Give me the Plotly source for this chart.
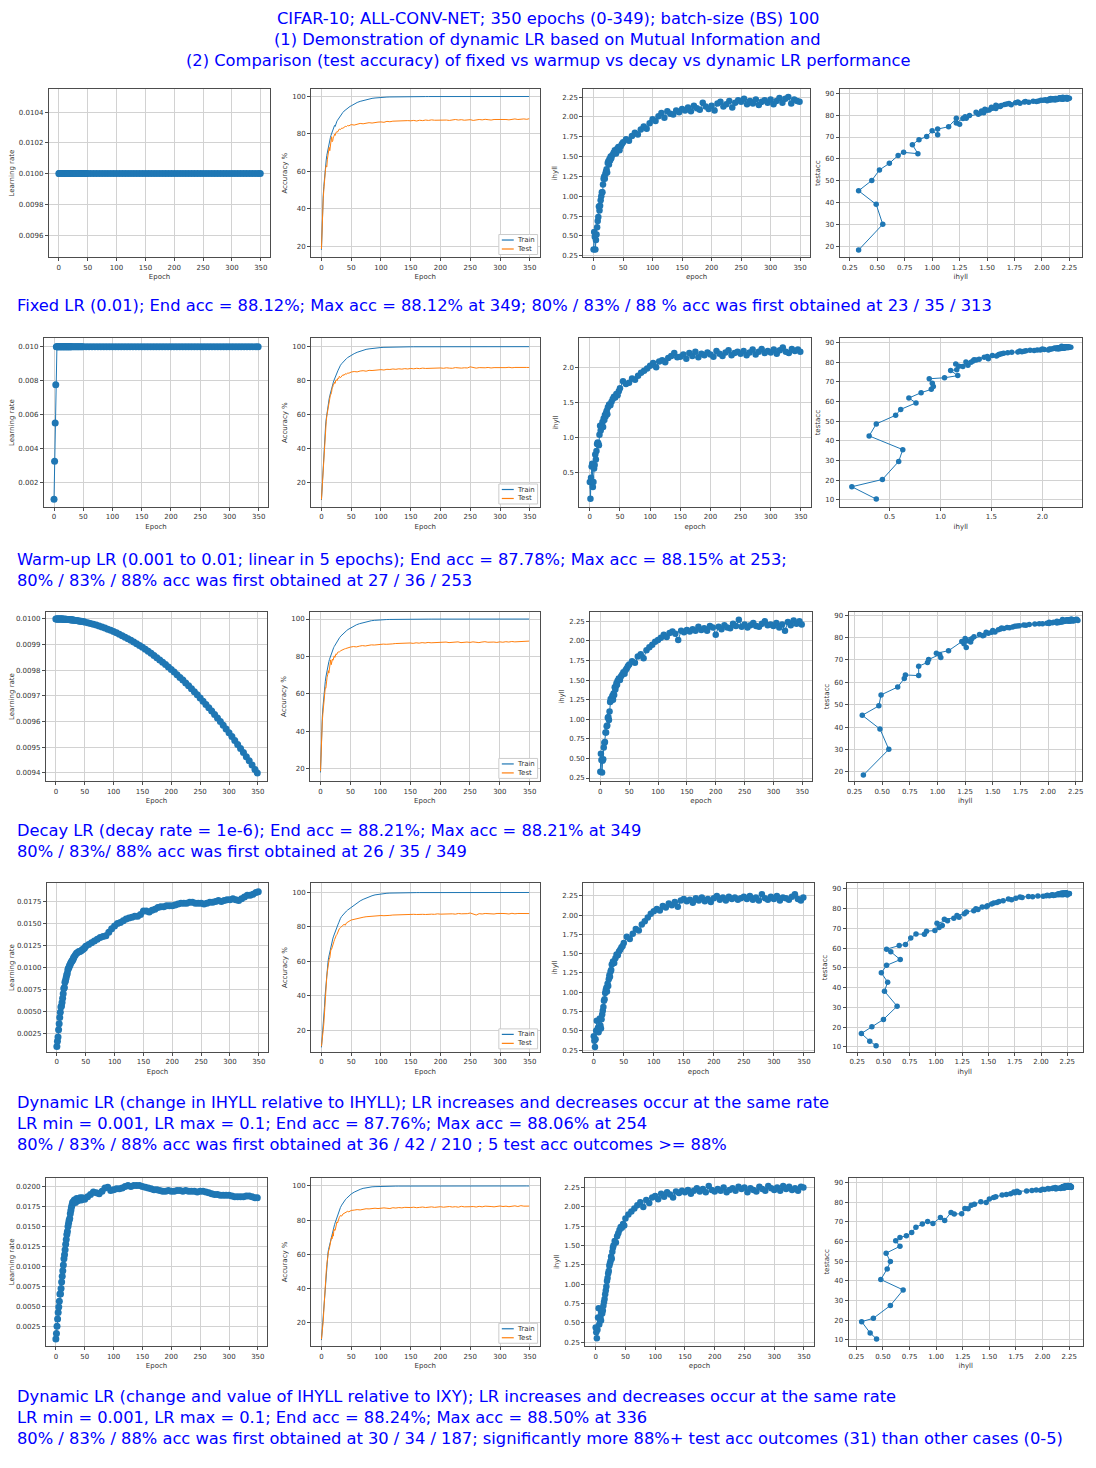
import plotly.graph_objects as go

EPOCHS = list(range(0, 30)) + list(range(30, 50, 2)) + list(range(50, 350, 5)) + [349]

# ---------------- row 1: fixed LR ----------------
LR_FIXED = [0.01] * len(EPOCHS)  # constant schedule

TRAIN_FIXED = [
    18.0, 31.0, 40.5, 47.0, 52.0, 56.5, 60.0, 63.5, 66.0, 68.5,
    70.5, 72.3, 74.0, 75.5, 76.8, 78.0, 79.2, 80.3, 81.3, 82.2,
    83.0, 83.8, 84.5, 84.0, 85.6, 86.2, 86.8, 87.3, 87.8, 88.3,
    89.2, 90.0, 90.8, 91.5, 92.2, 92.8, 93.3, 93.8, 94.3, 94.7,
    95.0, 96.0, 96.8, 97.4, 97.9, 98.3, 98.7, 99.0, 99.2, 99.4,
    99.5, 99.6, 99.7, 99.75, 99.8, 99.84, 99.87, 99.9, 99.9, 99.92,
    99.93, 99.94, 99.94, 99.95, 99.96, 99.96, 99.97, 99.96, 99.97, 99.98,
    99.97, 99.98, 99.98, 99.97, 99.98, 99.99, 99.98, 99.98, 99.99, 99.98,
    99.99, 99.98, 99.99, 99.99, 99.98, 99.99, 99.99, 99.99, 99.98, 99.99,
    99.99, 99.99, 99.99, 100.0, 99.99, 99.99, 100.0, 99.99, 99.99, 100.0,
    99.99,
]
TEST_FIXED = [
    18.5, 30.2, 39.3, 45.5, 50.2, 55.0, 58.0, 61.6, 63.0, 62.4,
    66.5, 68.8, 70.2, 72.8, 71.0, 73.6, 74.7, 78.5, 75.8, 76.4,
    78.4, 78.6, 79.8, 79.2, 80.4, 80.9, 81.3, 81.0, 81.9, 82.2,
    82.6, 82.3, 83.1, 83.0, 83.6, 84.0, 83.9, 84.5, 84.3, 84.8,
    85.0, 84.7, 85.3, 85.6, 85.4, 85.9, 86.0, 85.8, 86.2, 86.3,
    86.4, 86.2, 86.7, 86.5, 86.8, 86.9, 86.6, 87.0, 86.9, 87.1,
    87.0, 87.2, 86.9, 87.3, 87.1, 87.4, 87.2, 87.5, 87.3, 87.4,
    87.3, 87.6, 87.4, 87.2, 87.5, 87.7, 87.4, 87.6, 87.3, 87.5,
    87.6, 87.2, 87.4, 87.7, 87.5, 87.8, 87.6, 87.4, 87.7, 87.8,
    87.6, 87.9, 87.7, 87.5, 87.8, 88.0, 87.7, 87.9, 88.0, 87.8,
    88.12,
]
IHYLL_FIXED = [
    0.33, 0.55, 0.49, 0.33, 0.45, 0.52, 0.61, 0.69, 0.74, 0.87,
    0.82, 0.88, 0.95, 1.00, 1.05, 1.05, 1.15, 1.22, 1.25, 1.22,
    1.28, 1.31, 1.34, 1.30, 1.42, 1.44, 1.40, 1.47, 1.45, 1.50,
    1.48, 1.52, 1.55, 1.58, 1.54, 1.60, 1.62, 1.58, 1.63, 1.66,
    1.68, 1.72, 1.70, 1.76, 1.80, 1.78, 1.84, 1.88, 1.85, 1.92,
    1.97, 1.95, 2.01, 2.05, 1.99, 2.07, 2.04, 2.03, 2.08, 2.06,
    2.10, 2.08, 2.12, 2.07, 2.14, 2.11, 2.09, 2.18, 2.13, 2.10,
    2.14, 2.08, 2.17, 2.19, 2.13, 2.16, 2.20, 2.12, 2.18, 2.21,
    2.19, 2.23, 2.16, 2.20, 2.17, 2.22, 2.15, 2.19, 2.21, 2.18,
    2.22, 2.16, 2.20, 2.24, 2.18, 2.23, 2.25, 2.17, 2.22, 2.20,
    2.19,
]

# ---------------- row 2: warm-up LR ----------------
LR_WARMUP = [0.001, 0.00325, 0.0055, 0.00775] + [0.01] * (len(EPOCHS) - 4)

TRAIN_WARMUP = [
    10.0, 17.5, 23.0, 31.0, 37.5, 44.0, 49.5, 54.0, 57.5, 60.5,
    63.0, 65.5, 67.7, 69.5, 71.2, 72.8, 74.2, 75.5, 76.8, 78.0,
    79.1, 80.2, 81.2, 82.1, 83.0, 83.9, 84.7, 85.5, 86.2, 86.9,
    88.0, 89.1, 90.0, 90.9, 91.7, 92.4, 93.0, 93.6, 94.1, 94.6,
    94.9, 95.9, 96.7, 97.4, 97.9, 98.4, 98.7, 99.0, 99.2, 99.4,
    99.5, 99.6, 99.68, 99.75, 99.8, 99.83, 99.86, 99.89, 99.9, 99.92,
    99.93, 99.94, 99.95, 99.95, 99.96, 99.96, 99.97, 99.97, 99.97, 99.98,
    99.98, 99.97, 99.98, 99.98, 99.99, 99.98, 99.98, 99.99, 99.98, 99.99,
    99.99, 99.98, 99.99, 99.99, 99.99, 99.98, 99.99, 99.99, 99.99, 100.0,
    99.99, 99.99, 100.0, 99.99, 99.99, 100.0, 99.99, 100.0, 99.99, 99.99,
    100.0,
]
TEST_WARMUP = [
    10.3, 16.6, 20.3, 29.5, 35.5, 42.5, 48.6, 53.0, 56.0, 59.3,
    61.8, 64.5, 66.2, 67.6, 69.3, 71.6, 72.1, 73.2, 75.8, 76.2,
    78.0, 77.9, 79.1, 78.5, 80.2, 80.6, 80.0, 81.1, 81.6, 81.3,
    82.6, 81.8, 82.9, 83.5, 83.2, 84.1, 83.8, 84.6, 84.4, 84.9,
    85.1, 85.4, 85.2, 85.7, 85.9, 85.6, 86.1, 86.0, 86.3, 86.2,
    86.5, 86.3, 86.7, 86.6, 86.9, 86.7, 87.0, 86.8, 87.1, 86.9,
    87.2, 87.0, 87.3, 87.1, 87.4, 87.2, 87.3, 87.5, 87.2, 87.4,
    87.5, 87.3, 87.6, 87.4, 87.3, 87.7, 87.5, 87.4, 87.6, 87.5,
    88.15, 87.6, 87.4, 87.7, 87.5, 87.6, 87.8, 87.5, 87.7, 87.6,
    87.8, 87.5, 87.7, 87.9, 87.6, 87.8, 87.7, 87.9, 87.6, 87.8,
    87.78,
]
IHYLL_WARMUP = [
    0.37, 0.13, 0.43, 0.59, 0.63, 0.30, 0.37, 0.56, 0.61, 0.76,
    0.69, 0.81, 0.91, 0.93, 0.92, 0.89, 1.04, 1.17, 1.10, 1.16,
    1.18, 1.22, 1.15, 1.27, 1.25, 1.32, 1.30, 1.35, 1.38, 1.33,
    1.43, 1.47, 1.46, 1.51, 1.55, 1.58, 1.57, 1.62, 1.60, 1.66,
    1.70, 1.80, 1.76, 1.78, 1.84, 1.82, 1.88, 1.92, 1.95, 1.98,
    2.02, 2.06, 2.00, 2.08, 2.10, 2.07, 2.13, 2.16, 2.20, 2.14,
    2.15, 2.18, 2.12, 2.20, 2.16, 2.22, 2.14, 2.19, 2.17, 2.21,
    2.18, 2.15, 2.23, 2.19, 2.16, 2.21, 2.24, 2.17, 2.20, 2.22,
    2.19, 2.23, 2.17, 2.21, 2.25, 2.18, 2.22, 2.26, 2.20, 2.23,
    2.21, 2.25, 2.19, 2.24, 2.28, 2.22, 2.20, 2.26, 2.23, 2.25,
    2.22,
]

# ---------------- row 3: decay LR ----------------
LR_DECAY = [
    0.0100000, 0.0100000, 0.0100000, 0.0099999, 0.0099999, 0.0099999, 0.0099998, 0.0099998, 0.0099997, 0.0099996,
    0.0099995, 0.0099994, 0.0099993, 0.0099992, 0.0099990, 0.0099989, 0.0099987, 0.0099986, 0.0099984, 0.0099982,
    0.0099980, 0.0099978, 0.0099976, 0.0099974, 0.0099972, 0.0099969, 0.0099967, 0.0099964, 0.0099961, 0.0099959,
    0.0099956, 0.0099950, 0.0099943, 0.0099936, 0.0099929, 0.0099921, 0.0099913, 0.0099905, 0.0099896, 0.0099887,
    0.0099877, 0.0099851, 0.0099823, 0.0099792, 0.0099759, 0.0099723, 0.0099685, 0.0099644, 0.0099601, 0.0099555,
    0.0099507, 0.0099457, 0.0099404, 0.0099349, 0.0099291, 0.0099230, 0.0099168, 0.0099102, 0.0099034, 0.0098964,
    0.0098892, 0.0098817, 0.0098739, 0.0098659, 0.0098576, 0.0098491, 0.0098404, 0.0098314, 0.0098222, 0.0098127,
    0.0098030, 0.0097930, 0.0097828, 0.0097723, 0.0097616, 0.0097506, 0.0097394, 0.0097280, 0.0097163, 0.0097043,
    0.0096921, 0.0096797, 0.0096670, 0.0096541, 0.0096409, 0.0096275, 0.0096138, 0.0095999, 0.0095857, 0.0095713,
    0.0095566, 0.0095417, 0.0095266, 0.0095112, 0.0094956, 0.0094797, 0.0094635, 0.0094472, 0.0094305, 0.0094137,
    0.0094000,
]
TRAIN_DECAY = [
    18.0, 31.5, 41.0, 47.5, 52.5, 57.0, 60.5, 64.0, 66.5, 69.0,
    71.0, 72.8, 74.5, 75.9, 77.2, 78.4, 79.5, 80.5, 81.5, 82.4,
    83.2, 84.0, 84.7, 85.3, 85.9, 86.5, 87.0, 87.5, 88.0, 88.5,
    89.3, 90.1, 90.9, 91.6, 92.3, 92.9, 93.4, 93.9, 94.4, 94.8,
    95.2, 96.1, 96.9, 97.5, 98.0, 98.4, 98.8, 99.1, 99.3, 99.5,
    99.6, 99.65, 99.72, 99.78, 99.82, 99.85, 99.88, 99.9, 99.91, 99.93,
    99.94, 99.94, 99.95, 99.96, 99.96, 99.97, 99.96, 99.97, 99.98, 99.97,
    99.98, 99.98, 99.97, 99.98, 99.99, 99.98, 99.98, 99.99, 99.99, 99.98,
    99.99, 99.99, 99.98, 99.99, 99.99, 99.99, 99.98, 99.99, 100.0, 99.99,
    99.99, 100.0, 99.99, 99.99, 100.0, 99.99, 100.0, 99.99, 99.99, 100.0,
    100.0,
]
TEST_DECAY = [
    18.6, 30.1, 39.2, 45.3, 49.5, 54.4, 57.9, 61.7, 63.3, 63.0,
    67.2, 68.9, 70.2, 72.4, 71.1, 73.0, 74.1, 78.2, 75.6, 77.2,
    78.6, 78.0, 79.6, 80.3, 79.5, 80.8, 81.4, 81.0, 81.9, 82.3,
    82.4, 82.5, 83.1, 83.5, 83.8, 84.0, 84.2, 84.5, 84.4, 84.7,
    85.0, 85.3, 85.1, 85.5, 85.8, 85.6, 86.0, 86.2, 86.1, 86.4,
    86.3, 86.6, 86.5, 86.8, 86.7, 86.9, 87.0, 86.8, 87.1, 87.0,
    87.2, 87.0, 87.3, 87.1, 87.4, 87.2, 87.5, 87.3, 87.4, 87.6,
    87.3, 87.5, 87.7, 87.4, 87.6, 87.5, 87.8, 87.4, 87.6, 87.7,
    87.5, 87.8, 87.6, 87.4, 87.7, 87.9, 87.6, 87.8, 87.7, 87.5,
    87.8, 87.6, 87.9, 87.7, 88.0, 87.8, 87.9, 88.1, 87.9, 88.0,
    88.21,
]
IHYLL_DECAY = [
    0.33, 0.56, 0.48, 0.32, 0.47, 0.49, 0.64, 0.70, 0.71, 0.83,
    0.83, 0.91, 0.92, 1.02, 1.03, 0.99, 1.10, 1.22, 1.26, 1.24,
    1.27, 1.30, 1.25, 1.33, 1.31, 1.41, 1.38, 1.42, 1.46, 1.44,
    1.49, 1.52, 1.50, 1.55, 1.57, 1.60, 1.58, 1.63, 1.65, 1.68,
    1.70, 1.74, 1.72, 1.80, 1.83, 1.78, 1.88, 1.92, 1.95, 1.99,
    2.01, 2.04, 2.08, 2.05, 2.10, 2.12, 2.09, 2.01, 2.13, 2.11,
    2.14, 2.12, 2.15, 2.13, 2.18, 2.14, 2.16, 2.13, 2.19, 2.17,
    2.08, 2.18, 2.15, 2.20, 2.17, 2.16, 2.22, 2.19, 2.27, 2.18,
    2.21, 2.17, 2.20, 2.23, 2.19, 2.18, 2.22, 2.25, 2.20, 2.21,
    2.19, 2.23, 2.17, 2.21, 2.13, 2.24, 2.20, 2.26, 2.22, 2.25,
    2.21,
]

# ---------------- row 4: dynamic LR (IHYLL vs IHYLL) ----------------
LR_DYN1 = [
    0.0010, 0.0016, 0.0021, 0.0029, 0.0036, 0.0043, 0.0049, 0.0055, 0.0056, 0.0060,
    0.0065, 0.0070, 0.0076, 0.0077, 0.0083, 0.0085, 0.0088, 0.0091, 0.0093, 0.0097,
    0.0099, 0.0100, 0.0102, 0.0103, 0.0105, 0.0106, 0.0107, 0.0108, 0.0109, 0.0111,
    0.0112, 0.0114, 0.0116, 0.0117, 0.0118, 0.0118, 0.0119, 0.0120, 0.0121, 0.0122,
    0.0124, 0.0126, 0.0128, 0.0130, 0.0132, 0.0134, 0.0135, 0.0136, 0.0140, 0.0144,
    0.0147, 0.0150, 0.0151, 0.0153, 0.0155, 0.0156, 0.0157, 0.0158, 0.0158, 0.0160,
    0.0164, 0.0164, 0.0163, 0.0165, 0.0166, 0.0168, 0.0169, 0.0169, 0.0170, 0.0170,
    0.0170, 0.0171, 0.0172, 0.0173, 0.0173, 0.0173, 0.0174, 0.0174, 0.0173, 0.0173,
    0.0173, 0.0172, 0.0173, 0.0174, 0.0174, 0.0175, 0.0176, 0.0175, 0.0176, 0.0177,
    0.0177, 0.0178, 0.0177, 0.0176, 0.0178, 0.0180, 0.0182, 0.0182, 0.0183, 0.0185,
    0.0186,
]
TRAIN_DYN1 = [
    10.0, 14.0, 18.5, 22.5, 27.0, 33.0, 39.5, 44.5, 49.0, 53.0,
    56.5, 59.5, 62.0, 63.8, 65.5, 67.5, 69.2, 70.5, 71.8, 73.0,
    74.2, 75.3, 76.3, 77.3, 78.2, 79.1, 80.0, 80.8, 81.6, 82.4,
    83.8, 85.0, 86.1, 87.0, 87.8, 88.5, 89.2, 89.8, 90.3, 90.8,
    91.3, 92.8, 94.0, 95.1, 96.0, 96.8, 97.5, 98.1, 98.6, 98.9,
    99.2, 99.4, 99.55, 99.65, 99.72, 99.78, 99.82, 99.86, 99.88, 99.9,
    99.91, 99.92, 99.93, 99.94, 99.95, 99.95, 99.96, 99.96, 99.97, 99.97,
    99.97, 99.98, 99.97, 99.98, 99.98, 99.98, 99.99, 99.98, 99.98, 99.99,
    99.98, 99.99, 99.99, 99.98, 99.99, 99.99, 99.99, 99.98, 99.99, 99.99,
    99.99, 100.0, 99.99, 99.99, 99.99, 100.0, 99.99, 99.99, 100.0, 99.99,
    99.99,
]
TEST_DYN1 = [
    10.6, 12.9, 16.8, 20.2, 23.9, 30.6, 38.2, 42.8, 47.5, 51.3,
    54.2, 58.2, 59.5, 61.3, 61.9, 65.1, 67.2, 67.0, 68.6, 68.9,
    70.4, 71.5, 72.6, 73.9, 74.7, 75.2, 75.6, 76.6, 77.4, 78.3,
    78.9, 79.6, 80.0, 80.9, 81.5, 81.0, 82.3, 82.9, 83.1, 83.6,
    84.0, 84.5, 84.9, 85.3, 85.6, 85.9, 86.1, 86.0, 86.4, 86.3,
    86.6, 86.5, 86.8, 86.7, 86.9, 87.0, 86.8, 87.1, 87.0, 87.2,
    87.1, 87.3, 87.2, 87.4, 87.3, 87.2, 87.5, 87.4, 87.3, 87.6,
    87.4, 87.5, 87.7, 87.5, 87.6, 87.4, 87.8, 87.6, 87.5, 87.7,
    88.06, 87.6, 86.9, 87.7, 87.5, 87.8, 87.6, 87.7, 87.5, 87.8,
    87.6, 87.8, 87.7, 87.5, 87.9, 87.6, 87.8, 87.7, 87.9, 87.6,
    87.76,
]
IHYLL_DYN1 = [
    0.43, 0.37, 0.29, 0.39, 0.50, 0.63, 0.51, 0.54, 0.48, 0.53,
    0.66, 0.57, 0.53, 0.65, 0.71, 0.76, 0.81, 0.89, 0.91, 0.99,
    1.03, 1.06, 1.01, 1.11, 1.08, 1.17, 1.22, 1.20, 1.27, 1.29,
    1.36, 1.40, 1.38, 1.44, 1.49, 1.48, 1.53, 1.55, 1.58, 1.60,
    1.64, 1.72, 1.69, 1.76, 1.82, 1.80, 1.88, 1.92, 1.97, 2.02,
    2.05, 2.08, 2.06, 2.12, 2.10, 2.15, 2.13, 2.17, 2.11, 2.19,
    2.21, 2.18, 2.20, 2.16, 2.22, 2.19, 2.23, 2.18, 2.21, 2.17,
    2.22, 2.25, 2.20, 2.23, 2.19, 2.24, 2.21, 2.23, 2.20, 2.22,
    2.24, 2.21, 2.25, 2.20, 2.23, 2.19, 2.27, 2.22, 2.20, 2.24,
    2.21, 2.25, 2.19, 2.23, 2.22, 2.20, 2.24, 2.27, 2.21, 2.19,
    2.23,
]

# ---------------- row 5: dynamic LR (IHYLL vs IXY) ----------------
LR_DYN2 = [
    0.0010, 0.0017, 0.0026, 0.0035, 0.0043, 0.0050, 0.0057, 0.0066, 0.0066, 0.0073,
    0.0081, 0.0088, 0.0095, 0.0102, 0.0110, 0.0115, 0.0121, 0.0128, 0.0134, 0.0140,
    0.0144, 0.0150, 0.0154, 0.0158, 0.0160, 0.0166, 0.0170, 0.0174, 0.0177, 0.0180,
    0.0181, 0.0183, 0.0180, 0.0185, 0.0182, 0.0184, 0.0186, 0.0183, 0.0186, 0.0185,
    0.0184, 0.0187, 0.0190, 0.0193, 0.0192, 0.0191, 0.0194, 0.0198, 0.0199, 0.0195,
    0.0196, 0.0197, 0.0197, 0.0198, 0.0200, 0.0201, 0.0200, 0.0201, 0.0201, 0.0201,
    0.0200, 0.0199, 0.0198, 0.0197, 0.0196, 0.0196, 0.0195, 0.0194, 0.0194, 0.0195,
    0.0194, 0.0194, 0.0195, 0.0195, 0.0194, 0.0195, 0.0194, 0.0194, 0.0194, 0.0193,
    0.0194, 0.0194, 0.0193, 0.0192, 0.0191, 0.0190, 0.0190, 0.0189, 0.0189, 0.0189,
    0.0189, 0.0188, 0.0187, 0.0187, 0.0187, 0.0187, 0.0188, 0.0188, 0.0187, 0.0186,
    0.0186,
]
TRAIN_DYN2 = [
    10.0, 14.5, 19.5, 23.5, 29.5, 36.0, 41.5, 46.5, 50.5, 54.5,
    58.0, 61.0, 63.0, 64.6, 66.2, 68.0, 69.7, 71.2, 72.4, 73.8,
    75.0, 76.2, 77.4, 78.5, 79.6, 80.6, 81.6, 82.6, 83.5, 84.4,
    86.0, 87.5, 88.8, 90.0, 91.0, 91.9, 92.7, 93.4, 94.1, 94.7,
    95.3, 96.4, 97.3, 98.0, 98.6, 99.0, 99.3, 99.5, 99.6, 99.7,
    99.75, 99.8, 99.84, 99.87, 99.9, 99.92, 99.93, 99.94, 99.95, 99.95,
    99.96, 99.96, 99.97, 99.97, 99.97, 99.98, 99.98, 99.97, 99.98, 99.98,
    99.99, 99.98, 99.98, 99.99, 99.99, 99.98, 99.99, 99.99, 99.99, 99.98,
    99.99, 99.99, 99.99, 100.0, 99.99, 99.99, 99.99, 100.0, 99.99, 99.99,
    100.0, 99.99, 99.99, 100.0, 99.99, 100.0, 99.99, 99.99, 100.0, 100.0,
    99.99,
]
TEST_DYN2 = [
    10.5, 13.5, 19.3, 21.0, 27.5, 35.4, 40.7, 46.1, 49.8, 54.1,
    57.6, 60.4, 62.1, 62.9, 64.6, 67.2, 68.9, 70.2, 69.2, 72.2,
    70.7, 74.8, 74.0, 74.1, 76.8, 76.6, 79.0, 78.4, 80.2, 79.8,
    81.6, 82.8, 82.4, 83.6, 83.9, 84.3, 84.8, 85.2, 84.9, 85.5,
    85.7, 85.9, 86.2, 86.0, 86.5, 86.7, 86.6, 86.9, 87.0, 86.8,
    87.1, 87.2, 87.0, 86.8, 87.3, 87.1, 87.4, 87.2, 87.5, 87.3,
    87.4, 87.6, 87.3, 87.5, 87.7, 87.4, 87.6, 87.8, 87.5, 87.7,
    87.9, 87.6, 87.8, 88.0, 87.7, 87.9, 87.6, 88.1, 87.8, 87.7,
    87.9, 88.0, 87.7, 88.1, 87.8, 88.2, 87.9, 88.0, 87.8, 88.1,
    88.3, 88.0, 88.2, 87.9, 88.1, 88.4, 88.0, 88.5, 88.2, 88.1,
    88.24,
]
IHYLL_DYN2 = [
    0.44, 0.38, 0.30, 0.41, 0.57, 0.69, 0.48, 0.54, 0.57, 0.53,
    0.66, 0.62, 0.66, 0.72, 0.77, 0.81, 0.87, 0.92, 0.97, 1.04,
    1.08, 1.14, 1.17, 1.24, 1.27, 1.30, 1.36, 1.33, 1.42, 1.47,
    1.50, 1.56, 1.54, 1.62, 1.66, 1.70, 1.74, 1.73, 1.78, 1.76,
    1.85, 1.90, 1.94, 1.98, 2.02, 2.06, 2.00, 2.09, 2.05, 2.12,
    2.14, 2.10, 2.17, 2.13, 2.19, 2.16, 2.12, 2.20, 2.18, 2.21,
    2.19, 2.22, 2.17, 2.21, 2.24, 2.20, 2.23, 2.19, 2.27, 2.22,
    2.20, 2.23, 2.21, 2.25, 2.19, 2.22, 2.24, 2.21, 2.26, 2.23,
    2.25, 2.19, 2.24, 2.22, 2.20, 2.26, 2.23, 2.21, 2.27, 2.24,
    2.22, 2.25, 2.21, 2.27, 2.23, 2.26, 2.22, 2.24, 2.21, 2.26,
    2.25,
]

TITLE_LINES = [
    "CIFAR-10; ALL-CONV-NET; 350 epochs (0-349); batch-size (BS) 100",
    "(1) Demonstration of dynamic LR based on Mutual Information and",
    "(2) Comparison (test accuracy) of fixed vs warmup vs decay vs dynamic LR performance",
]
CAPTIONS = [
    ["Fixed LR (0.01); End acc = 88.12%; Max acc = 88.12% at 349; 80% / 83% / 88 % acc was first obtained at 23 / 35 / 313"],
    ["Warm-up LR (0.001 to 0.01; linear in 5 epochs); End acc = 87.78%; Max acc = 88.15% at 253;",
     "80% / 83% / 88% acc was first obtained at 27 / 36 / 253"],
    ["Decay LR (decay rate = 1e-6); End acc = 88.21%; Max acc = 88.21% at 349",
     "80% / 83%/ 88% acc was first obtained at 26 / 35 / 349"],
    ["Dynamic LR (change in IHYLL relative to IHYLL); LR increases and decreases occur at the same rate",
     "LR min = 0.001, LR max = 0.1; End acc = 87.76%; Max acc = 88.06% at 254",
     "80% / 83% / 88% acc was first obtained at 36 / 42 / 210 ; 5 test acc outcomes &gt;= 88%"],
    ["Dynamic LR (change and value of IHYLL relative to IXY); LR increases and decreases occur at the same rate",
     "LR min = 0.001, LR max = 0.1; End acc = 88.24%; Max acc = 88.50% at 336",
     "80% / 83% / 88% acc was first obtained at 30 / 34 / 187; significantly more 88%+ test acc outcomes (31) than other cases (0-5)"],
]

# page has an 8px body margin, so the figure is drawn 8px in from the window edge
OFF = 8
W, H = 1096 - 2 * OFF, 1468 - 2 * OFF
BLUE = "#1f77b4"
ORANGE = "#ff7f0e"
TXT = "#0000ff"
FONT = "DejaVu Sans"


def fx(px):
    return (px - OFF) / W


def fy(py):
    return 1 - (py - OFF) / H


rows = [
    dict(lr=LR_FIXED, train=TRAIN_FIXED, test=TEST_FIXED, ihyll=IHYLL_FIXED,
         boxes=[(43, 266, 89, 258), (307, 537, 89, 258), (581, 809, 89, 258), (839, 1083, 89, 258)],
         lr_range=[0.009455, 0.010551], lr_dtick=0.0002, lr_fmt=".4f",
         acc_range=[13.9, 104.1], ih_range=[0.229, 2.354], ih_dtick=0.25, ih_fmt=".2f",
         p4x=[0.157, 2.365], p4y=[15.1, 91.95], p4_dtick=10,
         cap_y=[306]),
    dict(lr=LR_WARMUP, train=TRAIN_WARMUP, test=TEST_WARMUP, ihyll=IHYLL_WARMUP,
         boxes=[(38, 264, 339, 508), (307, 537, 339, 508), (577, 810, 339, 508), (839, 1083, 339, 508)],
         lr_range=[0.00055, 0.01049], lr_dtick=0.002, lr_fmt=".3f",
         acc_range=[5.9, 104.9], ih_range=[0.015, 2.41], ih_dtick=0.5, ih_fmt=".1f",
         p4x=[0.01, 2.39], p4y=[6.3, 92.2], p4_dtick=10,
         cap_y=[561, 582]),
    dict(lr=LR_DECAY, train=TRAIN_DECAY, test=TEST_DECAY, ihyll=IHYLL_DECAY,
         boxes=[(40, 263, 613, 783), (306, 537, 613, 783), (588, 811, 613, 783), (848, 1083, 613, 783)],
         lr_range=[0.009367, 0.010028], lr_dtick=0.0001, lr_fmt=".4f",
         acc_range=[13.2, 103.9], ih_range=[0.207, 2.372], ih_dtick=0.25, ih_fmt=".2f",
         p4x=[0.196, 2.307], p4y=[15.8, 91.5], p4_dtick=10,
         cap_y=[832, 853]),
    dict(lr=LR_DYN1, train=TRAIN_DYN1, test=TEST_DYN1, ihyll=IHYLL_DYN1,
         boxes=[(41, 264, 885, 1054), (307, 537, 885, 1054), (581, 813, 885, 1054), (846, 1084, 885, 1054)],
         lr_range=[0.0004, 0.01957], lr_dtick=0.0025, lr_fmt=".4f",
         acc_range=[7.4, 105.4], ih_range=[0.227, 2.415], ih_dtick=0.25, ih_fmt=".2f",
         p4x=[0.149, 2.40], p4y=[7.5, 92.9], p4_dtick=10,
         cap_y=[1105, 1126, 1147]),
    dict(lr=LR_DYN2, train=TRAIN_DYN2, test=TEST_DYN2, ihyll=IHYLL_DYN2,
         boxes=[(40, 263, 1180, 1349), (307, 537, 1180, 1349), (583, 813, 1180, 1349), (848, 1084, 1180, 1349)],
         lr_range=[0.0001, 0.0211], lr_dtick=0.0025, lr_fmt=".4f",
         acc_range=[6.4, 104.9], ih_range=[0.198, 2.379], ih_dtick=0.25, ih_fmt=".2f",
         p4x=[0.177, 2.38], p4y=[6.8, 92.5], p4_dtick=10,
         cap_y=[1399, 1420, 1441]),
]


def axis(box, horizontal, rng, dtick, fmt, title, anchor):
    l, r, t, b = box
    dom = [fx(l), fx(r)] if horizontal else [fy(b), fy(t)]
    return dict(
        domain=dom, range=rng, dtick=dtick, tick0=0, tickformat=fmt,
        title=dict(text=title, font=dict(size=7, color="#333"), standoff=3),
        showline=True, mirror=True, linecolor="#4d4d4d", linewidth=1,
        showgrid=True, gridcolor="#d2d2d2", gridwidth=1, zeroline=False,
        ticks="outside", ticklen=3, tickcolor="#4d4d4d",
        tickfont=dict(size=7, color="#333"), anchor=anchor,
    )


fig = go.Figure()
layout = {}
shapes = []
annotations = []
EPOCH_RANGE = [-17.45, 366.45]

for r, row in enumerate(rows):
    for c in range(4):
        k = r * 4 + c + 1
        xa = "x" if k == 1 else f"x{k}"
        ya = "y" if k == 1 else f"y{k}"
        box = row["boxes"][c]
        if c == 0:
            fig.add_trace(go.Scatter(x=EPOCHS, y=row["lr"], mode="lines+markers",
                                     line=dict(color=BLUE, width=1), marker=dict(size=7, color=BLUE),
                                     showlegend=False, xaxis=xa, yaxis=ya))
            xcfg = axis(box, True, EPOCH_RANGE, 50, "d", "Epoch", ya)
            ycfg = axis(box, False, row["lr_range"], row["lr_dtick"], row["lr_fmt"], "Learning rate", xa)
        elif c == 1:
            fig.add_trace(go.Scatter(x=EPOCHS, y=row["train"], mode="lines", name="Train",
                                     line=dict(color=BLUE, width=1), showlegend=False,
                                     xaxis=xa, yaxis=ya))
            fig.add_trace(go.Scatter(x=EPOCHS, y=row["test"], mode="lines", name="Test",
                                     line=dict(color=ORANGE, width=1), showlegend=False,
                                     xaxis=xa, yaxis=ya))
            xcfg = axis(box, True, EPOCH_RANGE, 50, "d", "Epoch", ya)
            ycfg = axis(box, False, row["acc_range"], 20, "d", "Accuracy %", xa)
            # small matplotlib-style legend box in the lower right corner
            l, rr, t, b = box
            lx0, lx1 = rr - 41, rr - 2
            ly0, ly1 = b - 23, b - 3
            shapes.append(dict(type="rect", xref="paper", yref="paper",
                               x0=fx(lx0), x1=fx(lx1), y0=fy(ly1), y1=fy(ly0),
                               line=dict(color="#cccccc", width=1), fillcolor="white", layer="above"))
            for j, (name, col) in enumerate([("Train", BLUE), ("Test", ORANGE)]):
                yy = ly0 + 5.5 + 9 * j
                shapes.append(dict(type="line", xref="paper", yref="paper",
                                   x0=fx(lx0 + 3), x1=fx(lx0 + 15), y0=fy(yy), y1=fy(yy),
                                   line=dict(color=col, width=1.2), layer="above"))
                annotations.append(dict(text=name, x=fx(lx0 + 17), y=fy(yy), xref="paper", yref="paper",
                                        xanchor="left", yanchor="middle", showarrow=False,
                                        borderpad=0, font=dict(size=7, color="#333", family=FONT)))
        elif c == 2:
            fig.add_trace(go.Scatter(x=EPOCHS, y=row["ihyll"], mode="lines+markers",
                                     line=dict(color=BLUE, width=1), marker=dict(size=6.5, color=BLUE),
                                     showlegend=False, xaxis=xa, yaxis=ya))
            xcfg = axis(box, True, EPOCH_RANGE, 50, "d", "epoch", ya)
            ycfg = axis(box, False, row["ih_range"], row["ih_dtick"], row["ih_fmt"], "ihyll", xa)
        else:
            fig.add_trace(go.Scatter(x=row["ihyll"], y=row["test"], mode="lines+markers",
                                     line=dict(color=BLUE, width=1), marker=dict(size=5.5, color=BLUE),
                                     showlegend=False, xaxis=xa, yaxis=ya))
            xcfg = axis(box, True, row["p4x"], row["ih_dtick"], row["ih_fmt"], "ihyll", ya)
            ycfg = axis(box, False, row["p4y"], row["p4_dtick"], "d", "testacc", xa)
        layout["xaxis" if k == 1 else f"xaxis{k}"] = xcfg
        layout["yaxis" if k == 1 else f"yaxis{k}"] = ycfg

for i, line in enumerate(TITLE_LINES):
    annotations.append(dict(text=line, x=fx(545), y=fy(19 + 21 * i), xref="paper", yref="paper",
                            xanchor="center", yanchor="middle", showarrow=False, borderpad=0,
                            font=dict(size=16.3, color=TXT, family=FONT)))
for row, lines in zip(rows, CAPTIONS):
    for yy, line in zip(row["cap_y"], lines):
        annotations.append(dict(text=line, x=fx(10), y=fy(yy), xref="paper", yref="paper",
                                xanchor="left", yanchor="middle", showarrow=False, borderpad=0,
                                font=dict(size=16.3, color=TXT, family=FONT)))

fig.update_layout(
    width=W, height=H,
    margin=dict(l=0, r=0, t=0, b=0),
    paper_bgcolor="white", plot_bgcolor="white",
    font=dict(family=FONT, size=7, color="#333"),
    showlegend=False,
    annotations=annotations,
    shapes=shapes,
    **layout,
)

fig.write_html("out.html")
